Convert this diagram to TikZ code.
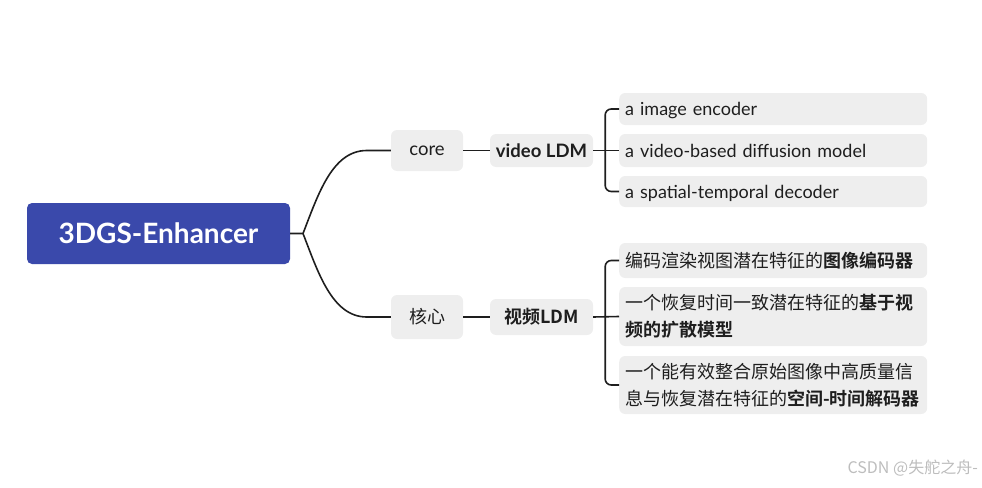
\documentclass[tikz,border=0pt]{standalone}
\usepackage{fontspec}
\setmainfont{Lato}
\newfontfamily\cjk{Noto Sans CJK SC}[BoldFont={Noto Sans CJK SC Bold}]
\usetikzlibrary{positioning}
\definecolor{indigo}{HTML}{3A49AB}
\definecolor{boxgray}{HTML}{EEEEEE}
\definecolor{ink}{HTML}{1E1E1E}
\definecolor{mark}{HTML}{BDBDBD}
\tikzset{
  rootbox/.style={
    rectangle, rounded corners=5pt, fill=indigo, text=white,
    font=\fontsize{28}{32}\selectfont\bfseries,
    minimum width=263pt, minimum height=61pt, inner sep=0pt
  },
  topicbox/.style={
    rectangle, rounded corners=6pt, fill=boxgray, text=ink,
    font=\fontsize{18.5}{22}\selectfont, inner sep=0pt
  },
  leafbox/.style={
    rectangle, rounded corners=6pt, fill=boxgray, text=ink,
    font=\fontsize{18}{22}\selectfont, align=left,
    text width=296pt, inner xsep=6pt, inner ysep=0pt, anchor=west
  },
  latinleaf/.style={
    leafbox, text height=15pt, text depth=2pt
  },
  cjkleaf/.style={
    leafbox, font=\cjk\fontsize{18}{27}\selectfont
  },
  branch/.style={ink, line width=1.6pt},
  fork/.style={branch, rounded corners=6pt},
}

\begin{document}
\begin{tikzpicture}[x=1pt, y=-1pt]
  \useasboundingbox (0,0) rectangle (982,487);

  % central topic
  \node[rootbox] (root) at (158.5,233.5) {3DGS-Enhancer};
  \coordinate (split) at (303,233.5);

  % english branch
  \node[topicbox, minimum width=72pt, minimum height=41pt] (core) at (427,150.5) {core};
  \node[topicbox, minimum width=103pt, minimum height=33pt, font=\fontsize{18.5}{22}\selectfont\bfseries]
    (vldm) at (541.5,150.5) {video LDM};
  \node[latinleaf, minimum height=32pt] (enc) at (619,109) {a image encoder};
  \node[latinleaf, minimum height=33pt] (diff) at (619,150.5) {a video-based diffusion model};
  \node[latinleaf, minimum height=31pt] (dec) at (619,191.5) {a spatial-temporal decoder};

  % chinese branch
  \node[topicbox, minimum width=72pt, minimum height=44pt, font=\cjk\fontsize{18}{22}\selectfont]
    (hexin) at (427,317) {核心};
  \node[topicbox, minimum width=103pt, minimum height=36pt, font=\cjk\fontsize{18}{22}\selectfont\bfseries]
    (shipin) at (541.5,317) {视频LDM};
  \node[cjkleaf, minimum height=35pt] (bianma) at (619,260.5)
    {编码渲染视图潜在特征的\textbf{图像编码器}};
  \node[cjkleaf, minimum height=59pt] (kuosan) at (619,316.5)
    {一个恢复时间一致潜在特征的\textbf{基于视}\\\textbf{频的扩散模型}};
  \node[cjkleaf, minimum height=58pt] (jiema) at (619,385)
    {一个能有效整合原始图像中高质量信\\息与恢复潜在特征的\textbf{空间-时间解码器}};

  % connectors
  \draw[branch] (root.east) -- (split)
    .. controls (318,195) and (332,150.5) .. ([xshift=-24pt]core.west) -- (core.west);
  \draw[branch] (split)
    .. controls (318,272) and (332,317) .. ([xshift=-24pt]hexin.west) -- (hexin.west);
  \draw[branch] (core) -- (vldm);
  \draw[branch] (hexin) -- (shipin);

  \draw[branch] (vldm.east) -- (diff.west);
  \draw[fork] (enc.west) -| ([xshift=12pt]vldm.east) |- (dec.west);
  \draw[branch] (shipin.east) -- (kuosan.west);
  \draw[fork] (bianma.west) -| ([xshift=12pt]shipin.east) |- (jiema.west);

  % watermark
  \node[anchor=east, text=mark, font=\cjk\fontsize{16}{18}\selectfont, inner sep=0pt]
    (wm) at (978,468) {CSDN @失舵之舟-};
\end{tikzpicture}
\end{document}
